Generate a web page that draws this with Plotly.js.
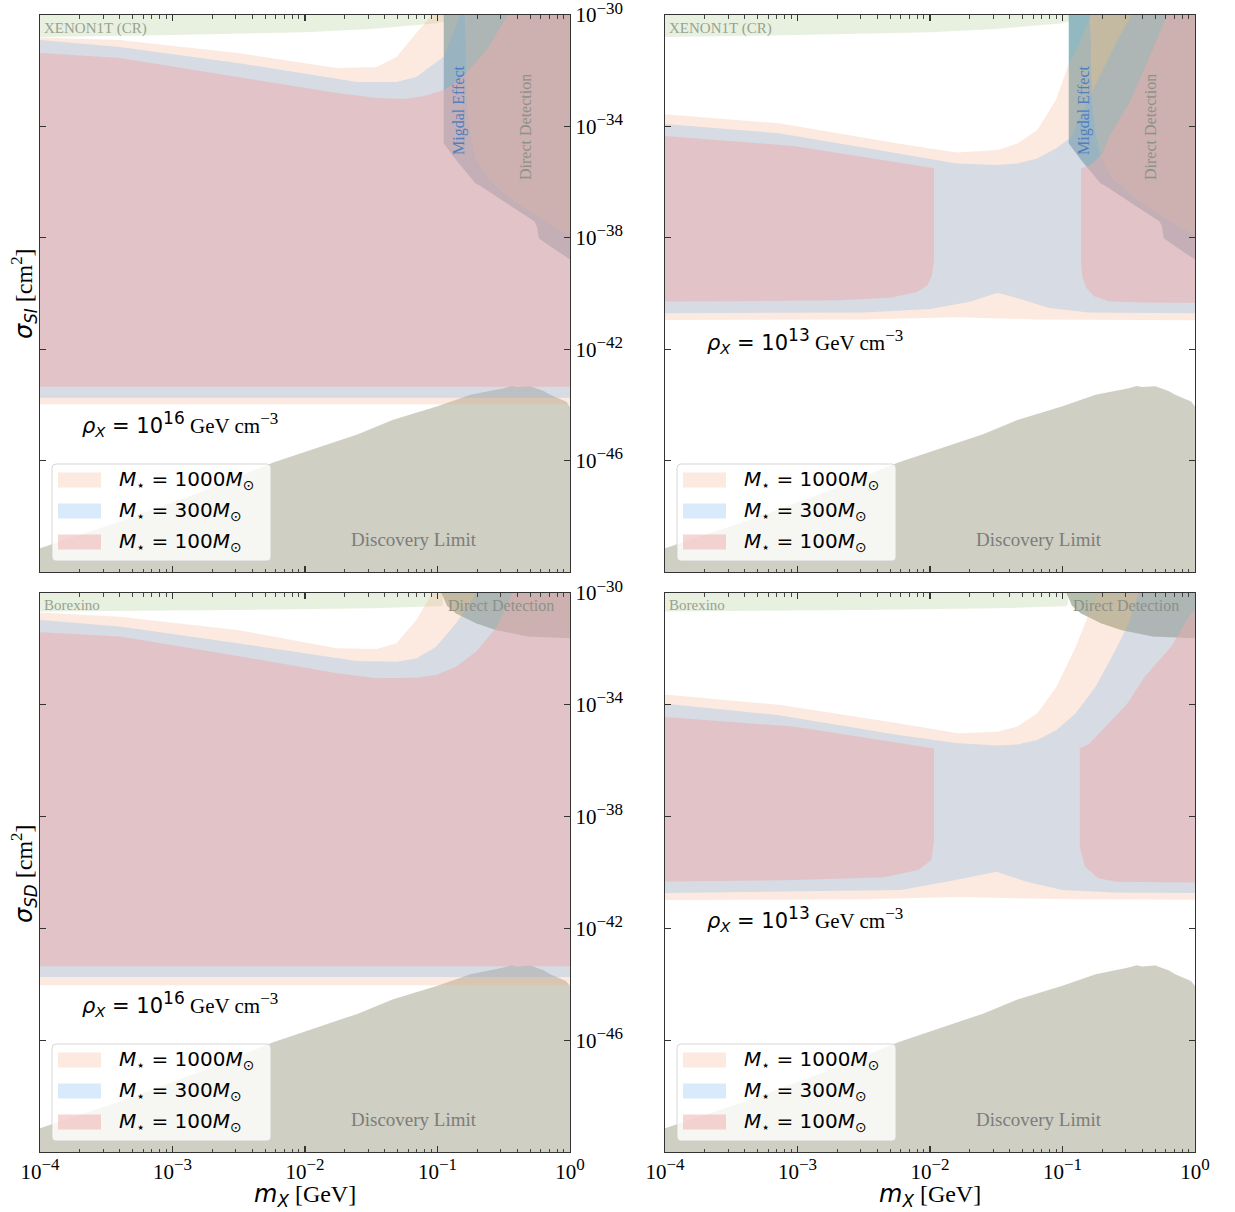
<!DOCTYPE html>
<html><head><meta charset="utf-8">
<script src="https://cdn.plot.ly/plotly-3.0.1.min.js"></script>
<style>html,body{margin:0;padding:0;background:#fff;} #plot{width:1235px;height:1212px;}</style>
</head><body><div id="plot"></div>
<script>
const W = 1235, H = 1212;

// ---------- tick labels ----------
const SUP = s => '<sup><span style="font-size:17px">' + s + '</span></sup>';
const massTicks = [1e-4, 1e-3, 1e-2, 1e-1, 1];
const massTickText = ['10' + SUP('−4'), '10' + SUP('−3'), '10' + SUP('−2'), '10' + SUP('−1'), '10' + SUP('0')];
const sigmaTicks = [1e-30, 1e-34, 1e-38, 1e-42, 1e-46, 1e-50];
const sigmaTickText = ['10' + SUP('−30'), '10' + SUP('−34'), '10' + SUP('−38'), '10' + SUP('−42'), '10' + SUP('−46'), ''];
const legendLabels = ['<i>M</i><sub>⋆</sub> = 1000<i>M</i><sub>⊙</sub>', '<i>M</i><sub>⋆</sub> = 300<i>M</i><sub>⊙</sub>', '<i>M</i><sub>⋆</sub> = 100<i>M</i><sub>⊙</sub>'];
const densityExponents = ['16', '13'];

// ---------- data (log10 of m_X [GeV] and log10 of sigma [cm^2]) ----------
// Discovery limit (same in all panels)
const dlM = [-4.1, -4, -3.4, -2.8, -2.24, -1.6, -1.34, -1.0, -0.75, -0.5, -0.44, -0.40, -0.30, -0.2, -0.15, -0.03, 0, 0.1];
const dlS = [-49.3, -49.15, -48.2, -47.15, -46.07, -45.05, -44.54, -44.05, -43.64, -43.4, -43.32, -43.36, -43.33, -43.5, -43.64, -43.88, -44.06, -44.2];

// XENON1T (CR) lower edge (SI panels)
const xenonM = [-4.1, -3, -2, -1.5, -1.0, -0.95];
const xenonS = [-30.8, -30.72, -30.62, -30.5, -30.3, -30.22];
// Borexino lower edge (SD panels)
const borexM = [-4.1, -2.51, -1.5, -0.99, -0.96];
const borexS = [-30.67, -30.61, -30.55, -30.47, -30.45];

// Direct detection lower edge, SI panels
const ddSiM = [-0.80, -0.79, -0.775, -0.75, -0.71, -0.62, -0.445, -0.25, 0, 0.1];
const ddSiS = [-29.5, -30.0, -33.05, -34.2, -35.1, -35.85, -36.6, -37.2, -37.92, -38.0];
// Migdal lower edge, SI panels
const migM = [-0.953, -0.953, -0.90, -0.86, -0.80, -0.714, -0.669, -0.45, -0.265, -0.25, -0.235, -0.15, 0, 0.1];
const migS = [-29.5, -34.61, -34.95, -35.21, -35.55, -36.04, -36.16, -36.85, -37.42, -37.6, -38.02, -38.3, -38.78, -38.85];
// Direct detection lower edge, SD panels
const ddSdM = [-0.97, -0.97, -0.93, -0.86, -0.71, -0.56, -0.32, 0, 0.1];
const ddSdS = [-29.5, -30.0, -30.45, -30.73, -31.08, -31.32, -31.56, -31.62, -31.63];

// ---- Top left: SI, rho = 1e16 ----
const tlPeachUpM = [-4.1, -3.4, -2.51, -1.76, -1.46, -1.31, -1.16, -1.04, -0.98];
const tlPeachUpS = [-30.79, -30.90, -31.36, -31.90, -31.87, -31.51, -30.65, -30.0, -29.5];
const tlPeachLowS = -43.98;
const tlBlueUpM = [-4.1, -3.4, -2.51, -1.61, -1.31, -1.16, -0.953, -0.89, -0.83, -0.80];
const tlBlueUpS = [-30.86, -31.15, -31.72, -32.41, -32.41, -32.23, -31.5, -30.75, -30.0, -29.5];
const tlBlueLowS = -43.74;
const tlPinkUpM = [-4.1, -3.4, -2.51, -1.76, -1.46, -1.25, -1.10, -0.95, -0.81, -0.63, -0.47, -0.44];
const tlPinkUpS = [-31.33, -31.54, -32.23, -32.80, -32.98, -33.02, -32.91, -32.69, -32.23, -31.26, -30.0, -29.5];
const tlPinkLowS = -43.35;

// ---- Bottom left: SD, rho = 1e16 ----
const blPeachUpM = [-4.1, -3.40, -2.51, -1.76, -1.46, -1.31, -1.16, -1.07, -1.04, -1.0];
const blPeachUpS = [-30.67, -30.85, -31.32, -31.98, -32.0, -31.80, -30.97, -30.25, -30.0, -29.5];
const blPeachLowS = -44.03;
const blBlueUpM = [-4.1, -3.40, -2.51, -1.61, -1.31, -1.16, -1.01, -0.86, -0.77, -0.71, -0.68];
const blBlueUpS = [-30.93, -31.2, -31.8, -32.43, -32.46, -32.34, -31.92, -31.08, -30.49, -30.0, -29.5];
const blBlueLowS = -43.74;
const blPinkUpM = [-4.1, -3.40, -2.51, -1.76, -1.46, -1.16, -1.01, -0.86, -0.71, -0.56, -0.44, -0.42];
const blPinkUpS = [-31.38, -31.56, -32.25, -32.87, -33.05, -33.03, -32.93, -32.64, -32.1, -31.26, -30.06, -29.5];
const blPinkLowS = -43.35;

// ---- Top right: SI, rho = 1e13 ----
const trPeachUpM = [-4.1, -3.14, -2.24, -1.80, -1.49, -1.34, -1.19, -1.05, -0.96, -0.87, -0.79, -0.75];
const trPeachUpS = [-33.53, -33.89, -34.61, -34.94, -34.85, -34.61, -34.13, -33.05, -31.86, -31.0, -30.0, -29.5];
const trPeachLowM = [-4.1, -2.5, -1.8, -1.2, 0.1];
const trPeachLowS = [-40.95, -40.93, -40.85, -40.93, -40.96];
const trBlueUpM = [-4.1, -3.14, -2.24, -1.80, -1.49, -1.34, -1.19, -1.05, -0.93, -0.87, -0.72, -0.59, -0.48, -0.45];
const trBlueUpS = [-33.87, -34.25, -34.97, -35.33, -35.39, -35.33, -35.15, -34.79, -34.37, -33.7, -32.2, -30.95, -30.0, -29.5];
const trBlueLowM = [-4.1, -2.5, -2.0, -1.7, -1.49, -1.3, -1.1, -0.8, 0.1];
const trBlueLowS = [-40.71, -40.68, -40.56, -40.3, -39.97, -40.22, -40.52, -40.68, -40.71];
const trPinkLeftM = [-4.1, -3.03, -1.97, -1.97, -1.985, -2.02, -2.1, -2.3, -2.7, -3.5, -4.1];
const trPinkLeftS = [-34.31, -34.7, -35.5, -38.8, -39.35, -39.7, -39.95, -40.15, -40.24, -40.28, -40.29];
const trPinkRightM = [-0.86, -0.80, -0.70, -0.64, -0.49, -0.36, -0.21, -0.18, 0.1, 0.1, -0.4, -0.65, -0.76, -0.82, -0.85, -0.86];
const trPinkRightS = [-35.5, -35.42, -35.0, -34.3, -33.1, -31.7, -30.0, -29.5, -29.5, -40.33, -40.32, -40.28, -40.1, -39.8, -39.4, -38.8];

// ---- Bottom right: SD, rho = 1e13 ----
const brPeachUpM = [-4.1, -3.14, -2.24, -1.79, -1.49, -1.34, -1.19, -1.045, -0.90, -0.81, -0.74, -0.71];
const brPeachUpS = [-33.59, -34.0, -34.66, -35.02, -34.96, -34.78, -34.30, -33.35, -31.92, -30.85, -30.0, -29.5];
const brPeachLowM = [-4.1, -2.5, -1.8, -1.0, 0.1];
const brPeachLowS = [-40.99, -40.96, -40.88, -40.95, -40.98];
const brBlueUpM = [-4.1, -3.14, -2.24, -1.79, -1.49, -1.34, -1.19, -1.045, -0.90, -0.75, -0.60, -0.50, -0.43, -0.40];
const brBlueUpS = [-33.92, -34.37, -35.08, -35.38, -35.46, -35.42, -35.26, -34.90, -34.30, -33.35, -32.04, -31.08, -30.06, -29.5];
const brBlueLowM = [-4.1, -2.22, -1.81, -1.5, -1.27, -1.0, -0.6, 0.1];
const brBlueLowS = [-40.74, -40.63, -40.27, -39.97, -40.33, -40.63, -40.72, -40.74];
const brPinkLeftM = [-4.1, -3.03, -1.97, -1.97, -1.99, -2.09, -2.35, -3.03, -4.1];
const brPinkLeftS = [-34.40, -34.78, -35.56, -38.84, -39.55, -39.91, -40.17, -40.27, -40.33];
const brPinkRightM = [-0.87, -0.80, -0.70, -0.51, -0.38, -0.18, -0.03, 0.1, 0.1, -0.59, -0.73, -0.83, -0.87];
const brPinkRightS = [-35.56, -35.4, -34.9, -33.95, -33.0, -31.92, -30.72, -30.3, -40.36, -40.33, -40.21, -39.79, -39.08];

// ---------- styling ----------
const C = {
  dl: 'rgba(160,160,136,0.5)',
  green: 'rgba(140,180,100,0.2)',
  dd: 'rgba(100,120,80,0.48)',
  mig: 'rgba(40,115,130,0.5)',
  peach: 'rgba(242,170,130,0.25)',
  blue: 'rgba(103,175,239,0.25)',
  pink: 'rgba(237,171,171,0.5)'
};
const SERIF = 'Liberation Serif';
const SANS = 'DejaVu Sans';

const p10 = a => a.map(v => v === null ? null : Math.pow(10, v));
const TOP = -29.5, BOT = -51, RIGHT = 0.1;

function poly(ms, ss, axes, color) {
  return {type: 'scatter', mode: 'none', x: p10(ms), y: p10(ss), fill: 'toself',
    fillcolor: color, hoverinfo: 'skip', showlegend: false, xaxis: axes[0], yaxis: axes[1]};
}
function bandFlat(upM, upS, low, axes, color) {
  const ms = upM.concat([RIGHT, RIGHT, -4.1]);
  const ss = upS.concat([TOP, low, low]);
  return poly(ms, ss, axes, color);
}
function band(upM, upS, lowM, lowS, axes, color) {
  const ms = upM.concat([RIGHT], lowM.slice().reverse());
  const ss = upS.concat([TOP], lowS.slice().reverse());
  return poly(ms, ss, axes, color);
}
function topBand(m, s, axes, color) {
  return poly(m.concat([m[m.length - 1], -4.1]), s.concat([TOP, TOP]), axes, color);
}
function ddRegion(m, s, axes) {
  return poly(m.concat([RIGHT]), s.concat([TOP]), axes, C.dd);
}
function migRegion(axes) {
  const ms = migM.concat(ddSiM.slice().reverse());
  const ss = migS.concat(ddSiS.slice().reverse());
  return poly(ms, ss, axes, C.mig);
}
function dlRegion(axes) {
  return poly(dlM.concat([RIGHT, -4.1]), dlS.concat([BOT, BOT]), axes, C.dl);
}

const A = {tl: ['x', 'y'], tr: ['x2', 'y2'], bl: ['x3', 'y3'], br: ['x4', 'y4']};
const traces = [];
// TL
traces.push(dlRegion(A.tl), topBand(xenonM, xenonS, A.tl, C.green), ddRegion(ddSiM, ddSiS, A.tl), migRegion(A.tl),
  bandFlat(tlPeachUpM, tlPeachUpS, tlPeachLowS, A.tl, C.peach),
  bandFlat(tlBlueUpM, tlBlueUpS, tlBlueLowS, A.tl, C.blue),
  bandFlat(tlPinkUpM, tlPinkUpS, tlPinkLowS, A.tl, C.pink));
// TR
traces.push(dlRegion(A.tr), topBand(xenonM, xenonS, A.tr, C.green), ddRegion(ddSiM, ddSiS, A.tr), migRegion(A.tr),
  band(trPeachUpM, trPeachUpS, trPeachLowM, trPeachLowS, A.tr, C.peach),
  band(trBlueUpM, trBlueUpS, trBlueLowM, trBlueLowS, A.tr, C.blue),
  poly(trPinkLeftM.concat([null], trPinkRightM), trPinkLeftS.concat([null], trPinkRightS), A.tr, C.pink));
// BL
traces.push(dlRegion(A.bl), topBand(borexM, borexS, A.bl, C.green), ddRegion(ddSdM, ddSdS, A.bl),
  bandFlat(blPeachUpM, blPeachUpS, blPeachLowS, A.bl, C.peach),
  bandFlat(blBlueUpM, blBlueUpS, blBlueLowS, A.bl, C.blue),
  bandFlat(blPinkUpM, blPinkUpS, blPinkLowS, A.bl, C.pink));
// BR
traces.push(dlRegion(A.br), topBand(borexM, borexS, A.br, C.green), ddRegion(ddSdM, ddSdS, A.br),
  band(brPeachUpM, brPeachUpS, brPeachLowM, brPeachLowS, A.br, C.peach),
  band(brBlueUpM, brBlueUpS, brBlueLowM, brBlueLowS, A.br, C.blue),
  poly(brPinkLeftM.concat([null], brPinkRightM), brPinkLeftS.concat([null], brPinkRightS), A.br, C.pink));

// ---------- axes ----------
const massMinor = [];
for (let d = -4; d < 0; d++) for (let k = 2; k <= 9; k++) massMinor.push(k * Math.pow(10, d));

const axLine = {showgrid: false, zeroline: false, showline: true, linecolor: '#333', linewidth: 1.3,
  mirror: 'ticks', ticks: 'inside', ticklen: 6, tickwidth: 1.1, tickcolor: '#333', ticklabeloverflow: 'allow'};
function xAxis(dom, anchor, labels) {
  return Object.assign({}, axLine, {type: 'log', range: [-4, 0], domain: dom, anchor: anchor,
    tickmode: 'array', tickvals: massTicks, ticktext: massTickText, showticklabels: labels,
    tickfont: {family: SERIF, size: 21, color: '#000'},
    minor: {ticks: 'inside', ticklen: 3.5, tickwidth: 0.9, tickcolor: '#333', tickmode: 'array', tickvals: massMinor, showgrid: false}});
}
function yAxis(dom, anchor, labels) {
  return Object.assign({}, axLine, {type: 'log', range: [-50, -30], domain: dom, anchor: anchor,
    side: labels ? 'right' : 'left',
    tickmode: 'array', tickvals: sigmaTicks, ticktext: sigmaTickText, showticklabels: labels,
    tickfont: {family: SERIF, size: 21, color: '#000'}});
}
const dxL = [40 / W, 570 / W], dxR = [665 / W, 1195 / W];
const dyT = [1 - 572 / H, 1 - 15 / H], dyB = [1 - 1152 / H, 1 - 593 / H];

// ---------- annotations & shapes ----------
const annotations = [];
const shapes = [];
const PX = x => x / W, PY = y => 1 - y / H;
function note(text, x, y, size, color, opts) {
  annotations.push(Object.assign({text: text, x: PX(x), y: PY(y), xref: 'paper', yref: 'paper',
    showarrow: false, xanchor: 'center', yanchor: 'middle',
    font: {family: SERIF, size: size, color: color}}, opts || {}));
}
function roundRect(x0, y0, x1, y1, r) {
  const f = (x, y) => PX(x) + ',' + PY(y);
  return 'M' + f(x0 + r, y0) + ' L' + f(x1 - r, y0) + ' Q' + f(x1, y0) + ' ' + f(x1, y0 + r) +
    ' L' + f(x1, y1 - r) + ' Q' + f(x1, y1) + ' ' + f(x1 - r, y1) +
    ' L' + f(x0 + r, y1) + ' Q' + f(x0, y1) + ' ' + f(x0, y1 - r) +
    ' L' + f(x0, y0 + r) + ' Q' + f(x0, y0) + ' ' + f(x0 + r, y0) + ' Z';
}
function legendBox(ox, oy) {
  shapes.push({type: 'path', xref: 'paper', yref: 'paper', path: roundRect(52 + ox, 464 + oy, 271 + ox, 561 + oy, 4),
    fillcolor: 'rgba(255,255,255,0.8)', line: {color: 'rgba(204,204,204,0.8)', width: 1}, layer: 'above'});
  const cols = [C.peach, C.blue, C.pink];
  const ys = [480, 511, 542];
  for (let i = 0; i < 3; i++) {
    shapes.push({type: 'rect', xref: 'paper', yref: 'paper', x0: PX(58 + ox), x1: PX(101 + ox),
      y0: PY(ys[i] + oy - 7.5), y1: PY(ys[i] + oy + 7.5), fillcolor: cols[i], line: {width: 0}, layer: 'above'});
    note(legendLabels[i], 117 + ox, ys[i] + oy, 20, '#000', {xanchor: 'left', font: {family: SANS, size: 20, color: '#000'}});
  }
}
const lblGreen = '#98a290', lblDD = '#8d918a', lblMig = '#4f7fc0', lblDL = '#7c7c7c';
function rhoText(exp) {
  return '<span style="font-family:DejaVu Sans"><i>ρ</i><sub><i>X</i></sub> = 10<sup><span style="font-size:17px">' + exp +
    '</span></sup></span> GeV cm<sup><span style="font-size:17px">−3</span></sup>';
}
// TL
note('XENON1T (CR)', 42, 29, 15, lblGreen, {xanchor: 'left'});
note('Migdal Effect', 459, 110, 16, lblMig, {textangle: -90});
note('Direct Detection', 525, 127, 16, lblDD, {textangle: -90});
note(rhoText(densityExponents[0]), 80, 424, 21, '#000', {xanchor: 'left'});
note('Discovery Limit', 414, 539, 19, lblDL);
legendBox(0, 0);
// TR
note('XENON1T (CR)', 667, 29, 15, lblGreen, {xanchor: 'left'});
note('Migdal Effect', 1084, 110, 16, lblMig, {textangle: -90});
note('Direct Detection', 1150, 127, 16, lblDD, {textangle: -90});
note(rhoText(densityExponents[1]), 705, 341, 21, '#000', {xanchor: 'left'});
note('Discovery Limit', 1039, 539, 19, lblDL);
legendBox(625, 0);
// BL
note('Borexino', 42, 605, 15, lblGreen, {xanchor: 'left'});
note('Direct Detection', 501, 605, 16, lblDD);
note(rhoText(densityExponents[0]), 80, 1004, 21, '#000', {xanchor: 'left'});
note('Discovery Limit', 414, 1119, 19, lblDL);
legendBox(0, 580);
// BR
note('Borexino', 667, 605, 15, lblGreen, {xanchor: 'left'});
note('Direct Detection', 1126, 605, 16, lblDD);
note(rhoText(densityExponents[1]), 705, 919, 21, '#000', {xanchor: 'left'});
note('Discovery Limit', 1039, 1119, 19, lblDL);
legendBox(625, 580);
// axis titles
note('<span style="font-family:DejaVu Sans"><i>σ</i><sub><i>SI</i></sub></span> [cm<sup>2</sup>]', 24, 294, 24, '#000', {textangle: -90});
note('<span style="font-family:DejaVu Sans"><i>σ</i><sub><i>SD</i></sub></span> [cm<sup>2</sup>]', 24, 874, 24, '#000', {textangle: -90});
note('<span style="font-family:DejaVu Sans"><i>m</i><sub><i>X</i></sub></span> [GeV]', 305, 1195, 24, '#000');
note('<span style="font-family:DejaVu Sans"><i>m</i><sub><i>X</i></sub></span> [GeV]', 930, 1195, 24, '#000');

const layout = {
  width: W, height: H, margin: {l: 0, r: 0, t: 0, b: 0}, paper_bgcolor: '#fff', plot_bgcolor: '#fff',
  showlegend: false,
  xaxis: xAxis(dxL, 'y', false), yaxis: yAxis(dyT, 'x', true),
  xaxis2: xAxis(dxR, 'y2', false), yaxis2: yAxis(dyT, 'x2', false),
  xaxis3: xAxis(dxL, 'y3', true), yaxis3: yAxis(dyB, 'x3', true),
  xaxis4: xAxis(dxR, 'y4', true), yaxis4: yAxis(dyB, 'x4', false),
  annotations: annotations, shapes: shapes
};
Plotly.newPlot('plot', traces, layout, {staticPlot: true, displayModeBar: false});
</script></body></html>
